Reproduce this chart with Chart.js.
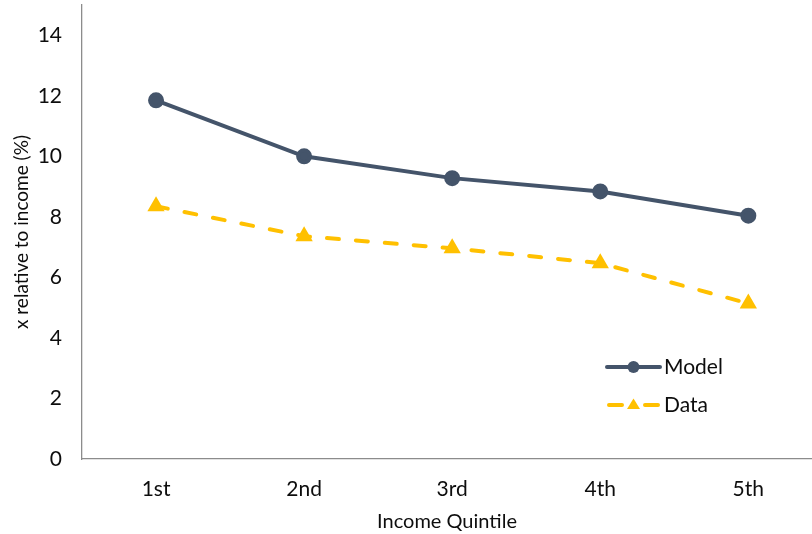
<!DOCTYPE html>
<html>
<head>
<meta charset="utf-8">
<script src="https://cdn.jsdelivr.net/npm/chart.js@4.4.1/dist/chart.umd.min.js"></script>
<style>
  html, body { margin: 0; padding: 0; background: #fff; }
  #wrap { width: 812px; height: 534px; }
</style>
</head>
<body>
<div id="wrap"><canvas id="myChart" width="812" height="534"></canvas></div>
<script>
const categories = ['1st', '2nd', '3rd', '4th', '5th'];
const modelValues = [11.85, 10.0, 9.28, 8.84, 8.04];
const dataValues = [8.35, 7.36, 6.96, 6.47, 5.14];
const yTicks = [0, 2, 4, 6, 8, 10, 12, 14];

const FONT = "Lato, 'Open Sans', sans-serif";
const TEXT_COLOR = '#0d0d0d';
const MODEL_COLOR = '#44546A';
const DATA_COLOR = '#FFC000';
const AXIS_COLOR = '#8C8C8C';

function toPoints(values) {
  return values.map((v, i) => ({x: i + 1, y: v}));
}

// legend drawn inside plot area, bottom right
const innerLegend = {
  id: 'innerLegend',
  afterDraw(chart) {
    const ctx = chart.ctx;
    const items = chart.data.datasets;
    const x0 = 607, x1 = 660;
    const rows = [367, 405];
    ctx.save();
    items.forEach((ds, i) => {
      const y = rows[i];
      ctx.strokeStyle = ds.borderColor;
      ctx.lineWidth = ds.borderWidth;
      ctx.lineCap = 'round';
      ctx.beginPath();
      if (ds.borderDash) {
        ctx.moveTo(x0 + 2, y); ctx.lineTo(x0 + 15, y);
        ctx.moveTo(x1 - 15, y); ctx.lineTo(x1 - 2, y);
      } else {
        ctx.moveTo(x0, y); ctx.lineTo(x1, y);
      }
      ctx.stroke();
      const cx = (x0 + x1) / 2;
      ctx.fillStyle = ds.pointBackgroundColor;
      ctx.beginPath();
      if (ds.pointStyle === 'triangle') {
        const r = 6.5;
        ctx.moveTo(cx, y - r);
        ctx.lineTo(cx + r, y + r * 0.6);
        ctx.lineTo(cx - r, y + r * 0.6);
        ctx.closePath();
      } else {
        ctx.arc(cx, y, 6, 0, Math.PI * 2);
      }
      ctx.fill();
      ctx.fillStyle = TEXT_COLOR;
      ctx.font = '21px ' + FONT;
      ctx.textBaseline = 'middle';
      ctx.textAlign = 'left';
      ctx.fillText(ds.label, x1 + 4, y);
    });
    ctx.restore();
  }
};

new Chart(document.getElementById('myChart').getContext('2d'), {
  type: 'line',
  data: {
    datasets: [
      {
        label: 'Model',
        data: toPoints(modelValues),
        borderColor: MODEL_COLOR,
        backgroundColor: MODEL_COLOR,
        pointBackgroundColor: MODEL_COLOR,
        pointBorderColor: MODEL_COLOR,
        borderWidth: 4,
        pointRadius: 6,
        pointStyle: 'circle',
        tension: 0
      },
      {
        label: 'Data',
        data: toPoints(dataValues),
        borderColor: DATA_COLOR,
        backgroundColor: DATA_COLOR,
        pointBackgroundColor: DATA_COLOR,
        pointBorderColor: DATA_COLOR,
        borderWidth: 4,
        borderDash: [12, 17],
        borderCapStyle: 'round',
        pointRadius: 6,
        pointStyle: 'triangle',
        tension: 0
      }
    ]
  },
  options: {
    responsive: false,
    animation: false,
    layout: {autoPadding: false, padding: {top: 5, right: 0, left: 0, bottom: 0}},
    plugins: {
      legend: {display: false},
      tooltip: {enabled: false}
    },
    scales: {
      x: {
        type: 'linear',
        min: 0.5,
        max: 5.43,
        afterBuildTicks: (scale) => { scale.ticks = categories.map((c, i) => ({value: i + 1})); },
        afterFit: (scale) => { scale.height = 75; scale.paddingLeft = 0; scale.paddingRight = 0; },
        grid: {display: false, drawTicks: false},
        border: {display: true, color: AXIS_COLOR, width: 1.3},
        ticks: {
          font: {family: FONT, size: 21},
          color: TEXT_COLOR,
          padding: 18,
          callback: (v) => categories[Math.round(v) - 1]
        },
        title: {
          display: true,
          text: 'Income Quintile',
          font: {family: FONT, size: 20},
          color: TEXT_COLOR,
          padding: {top: 6, bottom: 0}
        }
      },
      y: {
        min: 0,
        max: 15,
        afterBuildTicks: (scale) => { scale.ticks = yTicks.map(v => ({value: v})); },
        afterFit: (scale) => { scale.width = 82; scale.paddingTop = 0; scale.paddingBottom = 0; },
        grid: {display: false, drawTicks: false},
        border: {display: true, color: AXIS_COLOR, width: 1.3},
        ticks: {
          font: {family: FONT, size: 21},
          color: TEXT_COLOR,
          padding: 20
        },
        title: {
          display: true,
          text: 'x relative to income (%)',
          font: {family: FONT, size: 19},
          color: TEXT_COLOR,
          padding: {top: 10, bottom: 0}
        }
      }
    }
  },
  plugins: [innerLegend]
});
</script>
</body>
</html>
